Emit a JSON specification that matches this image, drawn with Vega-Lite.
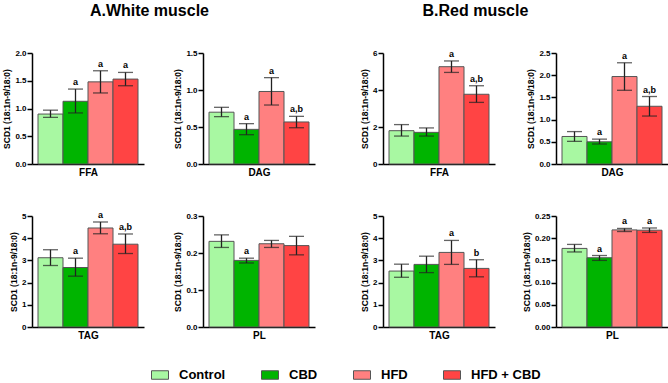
{
  "$schema": "https://vega.github.io/schema/vega-lite/v6.json",
  "padding": {"left": 2, "top": 3, "right": 0, "bottom": 0},
  "background": "white",
  "config": {
    "view": {"stroke": null},
    "font": "Liberation Sans",
    "axis": {"domainColor": "#000", "tickColor": "#000", "domainWidth": 1.5, "tickWidth": 1.5, "labelFont": "Liberation Sans", "labelFontWeight": "bold", "labelFontSize": 8, "labelColor": "#000", "titleFont": "Liberation Sans", "titleFontWeight": "bold", "titleColor": "#000", "grid": false, "labelOverlap": false},
    "axisY": {"tickSize": 5, "titleFontSize": 8.5, "titlePadding": 3, "labelPadding": 1},
    "axisX": {"titleFontSize": 10, "titlePadding": 3},
    "title": {"font": "Liberation Sans", "fontSize": 16, "fontWeight": "bold", "color": "#000", "anchor": "start", "offset": 30},
    "tick": {"color": "#222", "thickness": 1.3},
    "rule": {"color": "#222", "strokeWidth": 1.3},
    "text": {"font": "Liberation Sans", "fontWeight": "bold", "fontSize": 9, "baseline": "bottom", "dy": -2, "color": "#000"}
  },
  "datasets": {
    "d": [
      {"p": "P1", "g": "Control", "m": 0.90, "lo": 0.84, "hi": 0.97, "s": ""},
      {"p": "P1", "g": "CBD", "m": 1.13, "lo": 0.92, "hi": 1.35, "s": "a"},
      {"p": "P1", "g": "HFD", "m": 1.48, "lo": 1.28, "hi": 1.68, "s": "a"},
      {"p": "P1", "g": "HFD + CBD", "m": 1.53, "lo": 1.41, "hi": 1.65, "s": "a"},
      {"p": "P2", "g": "Control", "m": 0.70, "lo": 0.64, "hi": 0.766, "s": ""},
      {"p": "P2", "g": "CBD", "m": 0.468, "lo": 0.396, "hi": 0.545, "s": "a"},
      {"p": "P2", "g": "HFD", "m": 0.98, "lo": 0.797, "hi": 1.167, "s": "a"},
      {"p": "P2", "g": "HFD + CBD", "m": 0.568, "lo": 0.49, "hi": 0.644, "s": "a,b"},
      {"p": "P3", "g": "Control", "m": 1.80, "lo": 1.51, "hi": 2.13, "s": ""},
      {"p": "P3", "g": "CBD", "m": 1.71, "lo": 1.51, "hi": 1.95, "s": ""},
      {"p": "P3", "g": "HFD", "m": 5.26, "lo": 4.95, "hi": 5.57, "s": "a"},
      {"p": "P3", "g": "HFD + CBD", "m": 3.77, "lo": 3.33, "hi": 4.23, "s": "a,b"},
      {"p": "P4", "g": "Control", "m": 0.62, "lo": 0.51, "hi": 0.73, "s": ""},
      {"p": "P4", "g": "CBD", "m": 0.50, "lo": 0.45, "hi": 0.56, "s": "a"},
      {"p": "P4", "g": "HFD", "m": 1.97, "lo": 1.66, "hi": 2.28, "s": "a"},
      {"p": "P4", "g": "HFD + CBD", "m": 1.30, "lo": 1.08, "hi": 1.52, "s": "a,b"},
      {"p": "P5", "g": "Control", "m": 3.12, "lo": 2.77, "hi": 3.48, "s": ""},
      {"p": "P5", "g": "CBD", "m": 2.68, "lo": 2.29, "hi": 3.10, "s": "a"},
      {"p": "P5", "g": "HFD", "m": 4.46, "lo": 4.20, "hi": 4.73, "s": "a"},
      {"p": "P5", "g": "HFD + CBD", "m": 3.73, "lo": 3.31, "hi": 4.19, "s": "a,b"},
      {"p": "P6", "g": "Control", "m": 0.2315, "lo": 0.215, "hi": 0.249, "s": ""},
      {"p": "P6", "g": "CBD", "m": 0.180, "lo": 0.173, "hi": 0.186, "s": "a"},
      {"p": "P6", "g": "HFD", "m": 0.225, "lo": 0.215, "hi": 0.234, "s": ""},
      {"p": "P6", "g": "HFD + CBD", "m": 0.220, "lo": 0.195, "hi": 0.245, "s": ""},
      {"p": "P7", "g": "Control", "m": 2.52, "lo": 2.24, "hi": 2.83, "s": ""},
      {"p": "P7", "g": "CBD", "m": 2.82, "lo": 2.45, "hi": 3.19, "s": ""},
      {"p": "P7", "g": "HFD", "m": 3.36, "lo": 2.82, "hi": 3.90, "s": "a"},
      {"p": "P7", "g": "HFD + CBD", "m": 2.64, "lo": 2.26, "hi": 3.03, "s": "b"},
      {"p": "P8", "g": "Control", "m": 0.177, "lo": 0.169, "hi": 0.186, "s": ""},
      {"p": "P8", "g": "CBD", "m": 0.156, "lo": 0.150, "hi": 0.161, "s": "a"},
      {"p": "P8", "g": "HFD", "m": 0.2187, "lo": 0.215, "hi": 0.222, "s": "a"},
      {"p": "P8", "g": "HFD + CBD", "m": 0.218, "lo": 0.213, "hi": 0.223, "s": "a"}
    ]
  },
  "data": {"name": "d"},
  "resolve": {"scale": {"color": "shared"}},
  "spacing": 45,
  "hconcat": [
    {
      "columns": 2,
      "bounds": "flush",
      "spacing": {"column": 59, "row": 52},
      "resolve": {"scale": {"color": "shared"}},
      "concat": [
        {
          "title": {"text": "A.White muscle", "dx": 87},
          "width": 112, "height": 111,
          "transform": [{"filter": "datum.p == 'P1'"}],
          "encoding": {"x": {"field": "g", "type": "nominal", "sort": ["Control", "CBD", "HFD", "HFD + CBD"], "scale": {"paddingInner": 0, "paddingOuter": 0.24}, "axis": {"labels": false, "ticks": false, "title": "FFA"}}},
          "layer": [
            {"mark": {"type": "bar", "stroke": "#555", "strokeWidth": 1}, "encoding": {"y": {"field": "m", "type": "quantitative", "title": "SCD1 (18:1n-9/18:0)", "scale": {"domain": [0, 2]}, "axis": {"values": [0, 0.5, 1, 1.5, 2], "format": ".1f"}}, "color": {"field": "g", "type": "nominal", "sort": ["Control", "CBD", "HFD", "HFD + CBD"], "scale": {"domain": ["Control", "CBD", "HFD", "HFD + CBD"], "range": ["#a8f8a2", "#00b400", "#ff8080", "#ff4444"]}, "legend": {"orient": "none", "legendX": 119, "legendY": 313, "direction": "horizontal", "columns": 4, "columnPadding": 33, "title": null, "padding": 0, "labelFontSize": 13, "labelFontWeight": "bold", "labelFont": "Liberation Sans", "labelColor": "#000", "labelOffset": 10, "symbolType": "M-1,-0.5H1V0.5H-1Z", "symbolSize": 289, "symbolStrokeColor": "#444", "symbolStrokeWidth": 1}}}},
            {"mark": "rule", "encoding": {"y": {"field": "lo", "type": "quantitative", "title": "SCD1 (18:1n-9/18:0)", "scale": {"domain": [0, 2]}, "axis": {"values": [0, 0.5, 1, 1.5, 2], "format": ".1f"}}, "y2": {"field": "hi"}}},
            {"mark": {"type": "tick", "size": 15}, "encoding": {"y": {"field": "lo", "type": "quantitative", "title": "SCD1 (18:1n-9/18:0)", "scale": {"domain": [0, 2]}, "axis": {"values": [0, 0.5, 1, 1.5, 2], "format": ".1f"}}}},
            {"mark": {"type": "tick", "size": 15}, "encoding": {"y": {"field": "hi", "type": "quantitative", "title": "SCD1 (18:1n-9/18:0)", "scale": {"domain": [0, 2]}, "axis": {"values": [0, 0.5, 1, 1.5, 2], "format": ".1f"}}}},
            {"mark": "text", "encoding": {"y": {"field": "hi", "type": "quantitative", "title": "SCD1 (18:1n-9/18:0)", "scale": {"domain": [0, 2]}, "axis": {"values": [0, 0.5, 1, 1.5, 2], "format": ".1f"}}, "text": {"field": "s"}}}
          ]
        },
        {
          "width": 112, "height": 111,
          "transform": [{"filter": "datum.p == 'P2'"}],
          "encoding": {"x": {"field": "g", "type": "nominal", "sort": ["Control", "CBD", "HFD", "HFD + CBD"], "scale": {"paddingInner": 0, "paddingOuter": 0.24}, "axis": {"labels": false, "ticks": false, "title": "DAG"}}},
          "layer": [
            {"mark": {"type": "bar", "stroke": "#555", "strokeWidth": 1}, "encoding": {"y": {"field": "m", "type": "quantitative", "title": "SCD1 (18:1n-9/18:0)", "scale": {"domain": [0, 1.5]}, "axis": {"values": [0, 0.5, 1, 1.5], "format": ".1f"}}, "color": {"field": "g", "type": "nominal", "sort": ["Control", "CBD", "HFD", "HFD + CBD"]}}},
            {"mark": "rule", "encoding": {"y": {"field": "lo", "type": "quantitative", "title": "SCD1 (18:1n-9/18:0)", "scale": {"domain": [0, 1.5]}, "axis": {"values": [0, 0.5, 1, 1.5], "format": ".1f"}}, "y2": {"field": "hi"}}},
            {"mark": {"type": "tick", "size": 15}, "encoding": {"y": {"field": "lo", "type": "quantitative", "title": "SCD1 (18:1n-9/18:0)", "scale": {"domain": [0, 1.5]}, "axis": {"values": [0, 0.5, 1, 1.5], "format": ".1f"}}}},
            {"mark": {"type": "tick", "size": 15}, "encoding": {"y": {"field": "hi", "type": "quantitative", "title": "SCD1 (18:1n-9/18:0)", "scale": {"domain": [0, 1.5]}, "axis": {"values": [0, 0.5, 1, 1.5], "format": ".1f"}}}},
            {"mark": "text", "encoding": {"y": {"field": "hi", "type": "quantitative", "title": "SCD1 (18:1n-9/18:0)", "scale": {"domain": [0, 1.5]}, "axis": {"values": [0, 0.5, 1, 1.5], "format": ".1f"}}, "text": {"field": "s"}}}
          ]
        },
        {
          "width": 112, "height": 111,
          "transform": [{"filter": "datum.p == 'P5'"}],
          "encoding": {"x": {"field": "g", "type": "nominal", "sort": ["Control", "CBD", "HFD", "HFD + CBD"], "scale": {"paddingInner": 0, "paddingOuter": 0.24}, "axis": {"labels": false, "ticks": false, "title": "TAG"}}},
          "layer": [
            {"mark": {"type": "bar", "stroke": "#555", "strokeWidth": 1}, "encoding": {"y": {"field": "m", "type": "quantitative", "title": "SCD1 (18:1n-9/18:0)", "scale": {"domain": [0, 5]}, "axis": {"values": [0, 1, 2, 3, 4, 5], "format": "d"}}, "color": {"field": "g", "type": "nominal", "sort": ["Control", "CBD", "HFD", "HFD + CBD"]}}},
            {"mark": "rule", "encoding": {"y": {"field": "lo", "type": "quantitative", "title": "SCD1 (18:1n-9/18:0)", "scale": {"domain": [0, 5]}, "axis": {"values": [0, 1, 2, 3, 4, 5], "format": "d"}}, "y2": {"field": "hi"}}},
            {"mark": {"type": "tick", "size": 15}, "encoding": {"y": {"field": "lo", "type": "quantitative", "title": "SCD1 (18:1n-9/18:0)", "scale": {"domain": [0, 5]}, "axis": {"values": [0, 1, 2, 3, 4, 5], "format": "d"}}}},
            {"mark": {"type": "tick", "size": 15}, "encoding": {"y": {"field": "hi", "type": "quantitative", "title": "SCD1 (18:1n-9/18:0)", "scale": {"domain": [0, 5]}, "axis": {"values": [0, 1, 2, 3, 4, 5], "format": "d"}}}},
            {"mark": "text", "encoding": {"y": {"field": "hi", "type": "quantitative", "title": "SCD1 (18:1n-9/18:0)", "scale": {"domain": [0, 5]}, "axis": {"values": [0, 1, 2, 3, 4, 5], "format": "d"}}, "text": {"field": "s"}}}
          ]
        },
        {
          "width": 112, "height": 111,
          "transform": [{"filter": "datum.p == 'P6'"}],
          "encoding": {"x": {"field": "g", "type": "nominal", "sort": ["Control", "CBD", "HFD", "HFD + CBD"], "scale": {"paddingInner": 0, "paddingOuter": 0.24}, "axis": {"labels": false, "ticks": false, "title": "PL"}}},
          "layer": [
            {"mark": {"type": "bar", "stroke": "#555", "strokeWidth": 1}, "encoding": {"y": {"field": "m", "type": "quantitative", "title": "SCD1 (18:1n-9/18:0)", "scale": {"domain": [0, 0.3]}, "axis": {"values": [0, 0.1, 0.2, 0.3], "format": ".1f"}}, "color": {"field": "g", "type": "nominal", "sort": ["Control", "CBD", "HFD", "HFD + CBD"]}}},
            {"mark": "rule", "encoding": {"y": {"field": "lo", "type": "quantitative", "title": "SCD1 (18:1n-9/18:0)", "scale": {"domain": [0, 0.3]}, "axis": {"values": [0, 0.1, 0.2, 0.3], "format": ".1f"}}, "y2": {"field": "hi"}}},
            {"mark": {"type": "tick", "size": 15}, "encoding": {"y": {"field": "lo", "type": "quantitative", "title": "SCD1 (18:1n-9/18:0)", "scale": {"domain": [0, 0.3]}, "axis": {"values": [0, 0.1, 0.2, 0.3], "format": ".1f"}}}},
            {"mark": {"type": "tick", "size": 15}, "encoding": {"y": {"field": "hi", "type": "quantitative", "title": "SCD1 (18:1n-9/18:0)", "scale": {"domain": [0, 0.3]}, "axis": {"values": [0, 0.1, 0.2, 0.3], "format": ".1f"}}}},
            {"mark": "text", "encoding": {"y": {"field": "hi", "type": "quantitative", "title": "SCD1 (18:1n-9/18:0)", "scale": {"domain": [0, 0.3]}, "axis": {"values": [0, 0.1, 0.2, 0.3], "format": ".1f"}}, "text": {"field": "s"}}}
          ]
        }
      ]
    },
    {
      "columns": 2,
      "bounds": "flush",
      "spacing": {"column": 61, "row": 52},
      "resolve": {"scale": {"color": "shared"}},
      "concat": [
        {
          "title": {"text": "B.Red muscle", "dx": 62},
          "width": 112, "height": 111,
          "transform": [{"filter": "datum.p == 'P3'"}],
          "encoding": {"x": {"field": "g", "type": "nominal", "sort": ["Control", "CBD", "HFD", "HFD + CBD"], "scale": {"paddingInner": 0, "paddingOuter": 0.24}, "axis": {"labels": false, "ticks": false, "title": "FFA"}}},
          "layer": [
            {"mark": {"type": "bar", "stroke": "#555", "strokeWidth": 1}, "encoding": {"y": {"field": "m", "type": "quantitative", "title": "SCD1 (18:1n-9/18:0)", "scale": {"domain": [0, 6]}, "axis": {"values": [0, 2, 4, 6], "format": "d"}}, "color": {"field": "g", "type": "nominal", "sort": ["Control", "CBD", "HFD", "HFD + CBD"]}}},
            {"mark": "rule", "encoding": {"y": {"field": "lo", "type": "quantitative", "title": "SCD1 (18:1n-9/18:0)", "scale": {"domain": [0, 6]}, "axis": {"values": [0, 2, 4, 6], "format": "d"}}, "y2": {"field": "hi"}}},
            {"mark": {"type": "tick", "size": 15}, "encoding": {"y": {"field": "lo", "type": "quantitative", "title": "SCD1 (18:1n-9/18:0)", "scale": {"domain": [0, 6]}, "axis": {"values": [0, 2, 4, 6], "format": "d"}}}},
            {"mark": {"type": "tick", "size": 15}, "encoding": {"y": {"field": "hi", "type": "quantitative", "title": "SCD1 (18:1n-9/18:0)", "scale": {"domain": [0, 6]}, "axis": {"values": [0, 2, 4, 6], "format": "d"}}}},
            {"mark": "text", "encoding": {"y": {"field": "hi", "type": "quantitative", "title": "SCD1 (18:1n-9/18:0)", "scale": {"domain": [0, 6]}, "axis": {"values": [0, 2, 4, 6], "format": "d"}}, "text": {"field": "s"}}}
          ]
        },
        {
          "width": 112, "height": 111,
          "transform": [{"filter": "datum.p == 'P4'"}],
          "encoding": {"x": {"field": "g", "type": "nominal", "sort": ["Control", "CBD", "HFD", "HFD + CBD"], "scale": {"paddingInner": 0, "paddingOuter": 0.24}, "axis": {"labels": false, "ticks": false, "title": "DAG"}}},
          "layer": [
            {"mark": {"type": "bar", "stroke": "#555", "strokeWidth": 1}, "encoding": {"y": {"field": "m", "type": "quantitative", "title": "SCD1 (18:1n-9/18:0)", "scale": {"domain": [0, 2.5]}, "axis": {"values": [0, 0.5, 1, 1.5, 2, 2.5], "format": ".1f"}}, "color": {"field": "g", "type": "nominal", "sort": ["Control", "CBD", "HFD", "HFD + CBD"]}}},
            {"mark": "rule", "encoding": {"y": {"field": "lo", "type": "quantitative", "title": "SCD1 (18:1n-9/18:0)", "scale": {"domain": [0, 2.5]}, "axis": {"values": [0, 0.5, 1, 1.5, 2, 2.5], "format": ".1f"}}, "y2": {"field": "hi"}}},
            {"mark": {"type": "tick", "size": 15}, "encoding": {"y": {"field": "lo", "type": "quantitative", "title": "SCD1 (18:1n-9/18:0)", "scale": {"domain": [0, 2.5]}, "axis": {"values": [0, 0.5, 1, 1.5, 2, 2.5], "format": ".1f"}}}},
            {"mark": {"type": "tick", "size": 15}, "encoding": {"y": {"field": "hi", "type": "quantitative", "title": "SCD1 (18:1n-9/18:0)", "scale": {"domain": [0, 2.5]}, "axis": {"values": [0, 0.5, 1, 1.5, 2, 2.5], "format": ".1f"}}}},
            {"mark": "text", "encoding": {"y": {"field": "hi", "type": "quantitative", "title": "SCD1 (18:1n-9/18:0)", "scale": {"domain": [0, 2.5]}, "axis": {"values": [0, 0.5, 1, 1.5, 2, 2.5], "format": ".1f"}}, "text": {"field": "s"}}}
          ]
        },
        {
          "width": 112, "height": 111,
          "transform": [{"filter": "datum.p == 'P7'"}],
          "encoding": {"x": {"field": "g", "type": "nominal", "sort": ["Control", "CBD", "HFD", "HFD + CBD"], "scale": {"paddingInner": 0, "paddingOuter": 0.24}, "axis": {"labels": false, "ticks": false, "title": "TAG"}}},
          "layer": [
            {"mark": {"type": "bar", "stroke": "#555", "strokeWidth": 1}, "encoding": {"y": {"field": "m", "type": "quantitative", "title": "SCD1 (18:1n-9/18:0)", "scale": {"domain": [0, 5]}, "axis": {"values": [0, 1, 2, 3, 4, 5], "format": "d"}}, "color": {"field": "g", "type": "nominal", "sort": ["Control", "CBD", "HFD", "HFD + CBD"]}}},
            {"mark": "rule", "encoding": {"y": {"field": "lo", "type": "quantitative", "title": "SCD1 (18:1n-9/18:0)", "scale": {"domain": [0, 5]}, "axis": {"values": [0, 1, 2, 3, 4, 5], "format": "d"}}, "y2": {"field": "hi"}}},
            {"mark": {"type": "tick", "size": 15}, "encoding": {"y": {"field": "lo", "type": "quantitative", "title": "SCD1 (18:1n-9/18:0)", "scale": {"domain": [0, 5]}, "axis": {"values": [0, 1, 2, 3, 4, 5], "format": "d"}}}},
            {"mark": {"type": "tick", "size": 15}, "encoding": {"y": {"field": "hi", "type": "quantitative", "title": "SCD1 (18:1n-9/18:0)", "scale": {"domain": [0, 5]}, "axis": {"values": [0, 1, 2, 3, 4, 5], "format": "d"}}}},
            {"mark": "text", "encoding": {"y": {"field": "hi", "type": "quantitative", "title": "SCD1 (18:1n-9/18:0)", "scale": {"domain": [0, 5]}, "axis": {"values": [0, 1, 2, 3, 4, 5], "format": "d"}}, "text": {"field": "s"}}}
          ]
        },
        {
          "width": 112, "height": 111,
          "transform": [{"filter": "datum.p == 'P8'"}],
          "encoding": {"x": {"field": "g", "type": "nominal", "sort": ["Control", "CBD", "HFD", "HFD + CBD"], "scale": {"paddingInner": 0, "paddingOuter": 0.24}, "axis": {"labels": false, "ticks": false, "title": "PL"}}},
          "layer": [
            {"mark": {"type": "bar", "stroke": "#555", "strokeWidth": 1}, "encoding": {"y": {"field": "m", "type": "quantitative", "title": "SCD1 (18:1n-9/18:0)", "scale": {"domain": [0, 0.25]}, "axis": {"values": [0, 0.05, 0.1, 0.15, 0.2, 0.25], "format": ".2f"}}, "color": {"field": "g", "type": "nominal", "sort": ["Control", "CBD", "HFD", "HFD + CBD"]}}},
            {"mark": "rule", "encoding": {"y": {"field": "lo", "type": "quantitative", "title": "SCD1 (18:1n-9/18:0)", "scale": {"domain": [0, 0.25]}, "axis": {"values": [0, 0.05, 0.1, 0.15, 0.2, 0.25], "format": ".2f"}}, "y2": {"field": "hi"}}},
            {"mark": {"type": "tick", "size": 15}, "encoding": {"y": {"field": "lo", "type": "quantitative", "title": "SCD1 (18:1n-9/18:0)", "scale": {"domain": [0, 0.25]}, "axis": {"values": [0, 0.05, 0.1, 0.15, 0.2, 0.25], "format": ".2f"}}}},
            {"mark": {"type": "tick", "size": 15}, "encoding": {"y": {"field": "hi", "type": "quantitative", "title": "SCD1 (18:1n-9/18:0)", "scale": {"domain": [0, 0.25]}, "axis": {"values": [0, 0.05, 0.1, 0.15, 0.2, 0.25], "format": ".2f"}}}},
            {"mark": "text", "encoding": {"y": {"field": "hi", "type": "quantitative", "title": "SCD1 (18:1n-9/18:0)", "scale": {"domain": [0, 0.25]}, "axis": {"values": [0, 0.05, 0.1, 0.15, 0.2, 0.25], "format": ".2f"}}, "text": {"field": "s"}}}
          ]
        }
      ]
    }
  ]
}
